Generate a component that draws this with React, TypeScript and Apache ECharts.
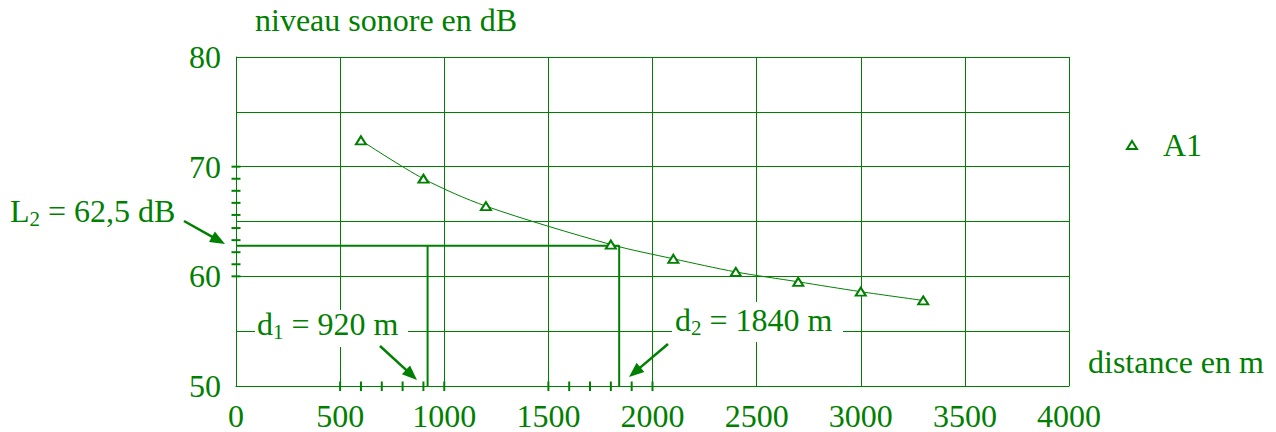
import React, { useEffect, useRef } from 'react';
import * as echarts from 'echarts';

const GREEN = '#008000';
const FONT = 'Liberation Serif';
const FS = 32;

// measured points (distance in m, level in dB)
const distances = [600, 900, 1200, 1800, 2100, 2400, 2700, 3000, 3300];
const levels = [72.4, 68.9, 66.4, 62.9, 61.6, 60.4, 59.5, 58.6, 57.8];

// reading guides
const levelL2 = 62.8;
const distD1 = 920;
const distD2 = 1840;

// axis labels shown
const yLabelValues = [50, 60, 70, 80];

// reading tick marks
const xReadTicks = [500, 600, 700, 800, 900, 1000, 1500, 1600, 1700, 1800, 1900, 2000];
const yReadTicks = [60, 61.1, 62.2, 63.3, 64.4, 65.6, 66.7, 67.8, 68.9, 70];

function arrow(x1: number, y1: number, x2: number, y2: number) {
  const dx = x2 - x1, dy = y2 - y1;
  const len = Math.hypot(dx, dy);
  const ux = dx / len, uy = dy / len;
  const hl = 15, hw = 6;
  const bx = x2 - ux * hl, by = y2 - uy * hl;
  return [
    { type: 'line', z: 100, shape: { x1, y1, x2: bx + ux * 2, y2: by + uy * 2 }, style: { stroke: GREEN, lineWidth: 2.5 } },
    {
      type: 'polygon', z: 100,
      shape: { points: [[x2, y2], [bx - uy * hw, by + ux * hw], [bx + uy * hw, by - ux * hw]] },
      style: { fill: GREEN },
    },
  ];
}

function txt(x: number, y: number, text: string, rich?: any) {
  const style: any = {
    text, fill: GREEN, fontSize: FS, fontFamily: FONT,
    verticalAlign: 'middle', textVerticalAlign: 'middle', align: 'left',
  };
  if (rich) style.rich = rich;
  return { type: 'text', z: 101, x, y, style };
}

const subRich = {
  m: { fontSize: FS, fontFamily: FONT, fill: GREEN, color: GREEN, verticalAlign: 'middle' },
  s: { fontSize: 21, fontFamily: FONT, fill: GREEN, color: GREEN, verticalAlign: 'middle', padding: [16, 0, 0, 0] },
};

export default function App() {
  const ref = useRef<HTMLDivElement>(null);
  useEffect(() => {
    if (!ref.current) return;
    const chart = echarts.init(ref.current, undefined, { renderer: 'svg' });
    const tickRender = (horizontal: boolean) => (params: any, api: any) => {
      const p = api.coord([api.value(0), api.value(1)]);
      const shape = horizontal
        ? { x1: p[0] - 4.5, y1: p[1], x2: p[0] + 4.5, y2: p[1] }
        : { x1: p[0], y1: p[1] - 4.5, x2: p[0], y2: p[1] + 5 };
      return { type: 'line', shape, style: { stroke: GREEN, lineWidth: 2 } };
    };
    chart.setOption({
      animation: false,
      backgroundColor: '#fff',
      textStyle: { fontFamily: FONT },
      grid: { left: 236, top: 57, right: 207, bottom: 45, containLabel: false },
      legend: {
        left: 1121, top: 124,
        data: [{ name: 'A1', icon: 'triangle' }],
        itemWidth: 10, itemHeight: 8,
        textStyle: { fontSize: FS, fontFamily: FONT, color: GREEN, padding: [0, 0, 0, 21] },
      },
      xAxis: {
        type: 'value', min: 0, max: 4000, interval: 500,
        axisLine: { show: true, lineStyle: { color: GREEN, width: 1 } },
        axisTick: { show: false },
        axisLabel: {
          color: GREEN, fontSize: FS, fontFamily: FONT, margin: 17, lineHeight: 26,
          formatter: (v: number) => String(v),
        },
        splitLine: { show: true, lineStyle: { color: GREEN, width: 1 } },
      },
      yAxis: {
        type: 'value', min: 50, max: 80, interval: 5,
        axisLine: { show: true, lineStyle: { color: GREEN, width: 1 } },
        axisTick: { show: false },
        axisLabel: {
          color: GREEN, fontSize: FS, fontFamily: FONT, margin: 15,
          formatter: (v: number) => (yLabelValues.includes(v) ? String(v) : ''),
        },
        splitLine: { show: true, lineStyle: { color: GREEN, width: 1 } },
      },
      series: [
        {
          name: 'guideH', type: 'line', symbol: 'none', silent: true, z: 3,
          data: [[0, levelL2], [distD2, levelL2], [distD2, 50]],
          lineStyle: { color: GREEN, width: 2 },
        },
        {
          name: 'guideV', type: 'line', symbol: 'none', silent: true, z: 3,
          data: [[distD1, levelL2], [distD1, 50]],
          lineStyle: { color: GREEN, width: 2 },
        },
        {
          name: 'xTicks', type: 'custom', silent: true, z: 4,
          data: xReadTicks.map((v) => [v, 50]),
          renderItem: tickRender(false),
        },
        {
          name: 'yTicks', type: 'custom', silent: true, z: 4,
          data: yReadTicks.map((v) => [0, v]),
          renderItem: tickRender(true),
        },
        {
          name: 'A1', type: 'line', smooth: 0.3, z: 5,
          data: distances.map((d, i) => [d, levels[i]]),
          symbol: 'triangle', symbolSize: [10, 8],
          lineStyle: { color: GREEN, width: 1 },
          itemStyle: { color: '#fff', borderColor: GREEN, borderWidth: 2 },
        },
      ],
      graphic: [
        txt(255, 19.5, 'niveau sonore en dB'),
        txt(1088, 361.5, 'distance en m'),
        txt(10, 210.5, '{m|L}{s|2}{m| = 62,5 dB}', subRich),
        { type: 'rect', z: 99, shape: { x: 255, y: 310, width: 153, height: 37 }, style: { fill: '#fff' } },
        txt(257, 323.5, '{m|d}{s|1}{m| = 920 m}', subRich),
        { type: 'rect', z: 99, shape: { x: 672, y: 302, width: 171, height: 40 }, style: { fill: '#fff' } },
        txt(675, 319.5, '{m|d}{s|2}{m| = 1840 m}', subRich),
        ...arrow(184, 221, 225, 244),
        ...arrow(380, 346, 417, 380),
        ...arrow(668, 344, 629, 377),
      ],
    });
    return () => chart.dispose();
  }, []);
  return <div ref={ref} style={{ position: 'absolute', left: 0, top: 0, width: 1276, height: 432 }} />;
}
